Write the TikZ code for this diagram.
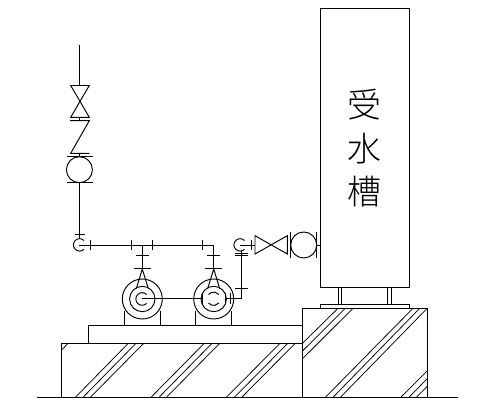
\documentclass[tikz,border=0pt]{standalone}
\usepackage{fontspec}
\newfontfamily\cjk{Noto Sans CJK JP Light}
\tikzset{
  ln/.style={draw=black,line width=0.95pt,line cap=butt,line join=miter},
  hat/.style={draw=black,line width=0.75pt},
  kanji/.style={inner sep=0pt,font=\cjk\fontsize{34}{34}\selectfont,text=black}
}
\newcommand{\pumpbody}[1]{%
  \draw[ln] (#1,299) circle[radius=20];
  \draw[ln] (#1,299) circle[radius=12.7];
  \draw[ln] (#1-6,288.5) -- (#1,269) -- (#1+6,288.5);
  \draw[ln] (#1-18,311) -- (#1-18,325.3);
  \draw[ln] (#1+18,311) -- (#1+18,325.3);
  \draw[ln] (#1,245) -- (#1,269);
  \draw[ln] (#1-6.5,255.7) -- (#1+6.5,255.7);
  \draw[ln] (#1-8.5,268.7) -- (#1+8.5,268.7);
}
\begin{document}
\begin{tikzpicture}[x=1pt,y=-1pt]
\useasboundingbox (0,0) rectangle (492,398);
% ground
\draw[ln] (37,397) -- (458,397);
% tank
\draw[ln] (320.5,8) rectangle (409.5,287);
\node[kanji] (t1) at (364,105) {受};
\node[kanji] (t2) at (364,149) {水};
\node[kanji] (t3) at (364,192) {槽};
% legs and base plate
\draw[ln] (338.3,287) -- (338.3,304.5) (341.8,287) -- (341.8,304.5);
\draw[ln] (387.8,287) -- (387.8,304.5) (391.5,287) -- (391.5,304.5);
\draw[ln] (320.5,308) -- (320.5,304.5) -- (409.5,304.5) -- (409.5,308);
% concrete blocks
\draw[ln] (302.5,397) -- (302.5,308) -- (427.5,308) -- (427.5,397);
\draw[ln] (61.7,397) -- (61.7,343.3) -- (302.5,343.3);
\draw[ln] (88.3,343.3) -- (88.3,325.3) -- (302.5,325.3);
% hatching, lower block
\draw[hat] (61.7,350) -- (68,343.3);
\foreach \a/\b in {75.7/128.3,83.3/136,90.7/143.7,151.3/204.3,159.3/212,166.7/219.7,226.7/280,234.7/287.7,242/295.3}
  \draw[hat] (\a,397) -- (\b,343.3);
% hatching, right block
\foreach \a/\b in {343.3/338.3,351/345.7,358.7/353.3}
  \draw[hat] (302.5,\a) -- (\b,308);
\foreach \a/\b in {325.7/413.3,333.3/420,340.7/427.5}
  \draw[hat] (\a,397) -- (\b,308);
\foreach \a/\b in {401/370.7,409.3/378.3,416.7/386}
  \draw[hat] (\a,397) -- (427.5,\b);
% riser
\draw[ln] (79.4,45) -- (79.4,85.5);
\draw[ln] (70.7,85.5) -- (89.3,85.5) -- (70.7,117.3) -- (89.3,117.3) -- cycle;
\draw[ln] (79.4,117.3) -- (79.4,120.7);
\draw[ln] (70,120.7) -- (89.3,120.7) -- (70.7,153.3) -- (89.3,153.3);
\draw[ln] (79.4,153.3) -- (79.4,156.7);
\draw[ln] (66.7,156.7) -- (92.5,156.7);
\draw[ln] (79.4,169.7) circle[radius=13];
\draw[ln] (66.7,182.7) -- (92.5,182.7);
\draw[ln] (79.4,182.7) -- (79.4,239);
\draw[ln] (74.5,234) -- (84.5,234);
% elbow and header
\draw[ln] (84,240.5) arc[start angle=-45,end angle=-315,radius=6.2];
\draw[ln] (79.4,245) -- (213.7,245) -- (213.7,269);
\foreach \x in {90,131,152.7,202.7}
  \draw[ln] (\x,240) -- (\x,250);
% pumps
\pumpbody{142.3}
\pumpbody{213.7}
% pump 1 inner
\draw[ln] (146.6,294.5) arc[start angle=-45,end angle=-315,radius=6.3];
\draw[ln] (142.3,298.3) -- (202,298.3);
% pump 2 inner
\draw[ln] (208.5,294.5) arc[start angle=-140,end angle=-40,radius=6.8];
\draw[ln] (208.5,303) arc[start angle=140,end angle=40,radius=6.8];
\draw[ln] (190,298.3) -- (202,298.3);
\draw[ln] (202,293) -- (202,304);
\draw[ln] (225,293) -- (225,304);
\draw[ln] (230,293) -- (230,304);
\draw[ln] (225,298.3) -- (241.5,298.3) -- (241.5,250.5);
\draw[ln] (235,288.3) -- (248,288.3);
\draw[ln] (235,255) -- (248,255);
\draw[ln] (235,253) -- (248,253);
% discharge
\draw[ln] (244.5,240.5) arc[start angle=-45,end angle=-315,radius=6.2];
\draw[ln] (240,245) -- (255,245);
\draw[ln] (251.5,240) -- (251.5,250);
\draw[ln] (255,235.7) -- (287.3,254) -- (287.3,235.7) -- (255,254) -- cycle;
\draw[ln] (290.7,232) -- (290.7,258);
\draw[ln] (303.7,245) circle[radius=13];
\draw[ln] (316.7,232) -- (316.7,258);
\draw[ln] (316.7,245) -- (320.5,245);
\end{tikzpicture}
\end{document}
